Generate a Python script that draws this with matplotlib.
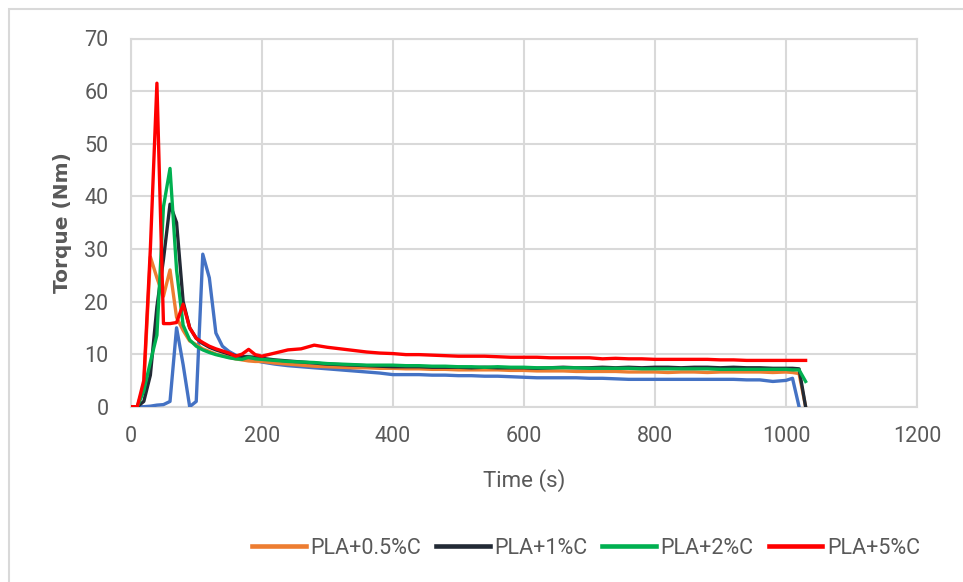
import numpy as np
import matplotlib
matplotlib.use("Agg")
import matplotlib.pyplot as plt
from matplotlib.patches import Rectangle
from matplotlib.lines import Line2D

# Sampling times (s)
time_s = list(range(0, 210, 10)) + list(range(220, 1010, 20)) + [1010, 1020, 1030]

pla = [0, 0, 0, 0.1, 0.3, 0.4, 1.0, 15.0, 8.0, 0, 1.0, 29.0, 24.5, 14.0, 11.5, 10.5, 9.8, 9.4, 9.0, 8.8, 8.5,
       8.1, 7.8, 7.6, 7.4, 7.2, 7.0, 6.8, 6.6, 6.4, 6.1, 6.1, 6.1, 6.0, 6.0, 5.9, 5.9, 5.8, 5.8, 5.7, 5.6,
       5.5, 5.5, 5.5, 5.5, 5.4, 5.4, 5.3, 5.2, 5.2, 5.2, 5.2, 5.2, 5.2, 5.2, 5.2, 5.2, 5.1, 5.1, 4.8, 5.0,
       5.4, 0, np.nan]

pla_05c = [0, 0, 4.0, 28.5, 24.5, 21.0, 26.0, 17.0, 14.5, 12.5, 11.8, 11.0, 10.5, 10.0, 9.7, 9.4, 9.1, 8.9, 8.7, 8.6, 8.6,
           8.3, 8.1, 7.9, 7.7, 7.6, 7.5, 7.4, 7.4, 7.3, 7.3, 7.2, 7.2, 7.1, 7.1, 7.0, 7.0, 7.0, 7.0, 6.9, 6.9,
           6.8, 6.8, 6.8, 6.7, 6.7, 6.7, 6.7, 6.6, 6.6, 6.6, 6.5, 6.6, 6.6, 6.5, 6.6, 6.6, 6.6, 6.6, 6.5, 6.6,
           6.5, 6.3, 0]

pla_1c = [0, 0, 1.0, 6.0, 19.0, 28.0, 38.5, 35.0, 20.0, 15.0, 13.0, 12.0, 11.3, 10.8, 10.4, 10.0, 9.7, 9.5, 9.5, 9.4, 9.2,
          8.9, 8.7, 8.5, 8.3, 8.1, 8.0, 7.9, 7.8, 7.7, 7.6, 7.6, 7.6, 7.5, 7.5, 7.5, 7.4, 7.5, 7.4, 7.4, 7.4,
          7.3, 7.4, 7.5, 7.4, 7.4, 7.5, 7.4, 7.5, 7.4, 7.5, 7.5, 7.4, 7.5, 7.5, 7.4, 7.5, 7.4, 7.4, 7.3, 7.3,
          7.3, 7.2, 0]

pla_2c = [0, 0, 3.0, 8.5, 13.6, 38.0, 45.3, 26.0, 15.5, 12.7, 11.5, 10.8, 10.3, 9.9, 9.6, 9.3, 9.1, 9.0, 9.4, 9.1, 9.0,
          8.8, 8.6, 8.5, 8.4, 8.2, 8.1, 8.0, 7.9, 7.9, 7.9, 7.8, 7.8, 7.7, 7.7, 7.6, 7.6, 7.5, 7.6, 7.5, 7.5,
          7.4, 7.4, 7.4, 7.4, 7.3, 7.3, 7.3, 7.3, 7.2, 7.2, 7.2, 7.2, 7.2, 7.2, 7.1, 7.1, 7.1, 7.1, 7.1, 7.1,
          7.0, 7.0, 4.8]

pla_5c = [0, 0, 5.0, 30.0, 61.5, 15.8, 15.8, 16.0, 19.5, 15.0, 13.0, 12.2, 11.5, 11.0, 10.6, 10.2, 9.6, 10.0, 10.9, 9.9, 9.6,
          10.2, 10.8, 11.0, 11.7, 11.3, 11.0, 10.7, 10.4, 10.2, 10.1, 9.9, 9.9, 9.8, 9.7, 9.6, 9.6, 9.6, 9.5, 9.4, 9.4,
          9.4, 9.3, 9.3, 9.3, 9.3, 9.1, 9.2, 9.1, 9.1, 9.0, 9.0, 9.0, 9.0, 9.0, 8.9, 8.9, 8.8, 8.8, 8.8, 8.8,
          8.8, 8.8, 8.8]

series = [
    (pla, "#4472C4", None),
    (pla_05c, "#ED7D31", "PLA+0.5%C"),
    (pla_1c, "#222A35", "PLA+1%C"),
    (pla_2c, "#00B050", "PLA+2%C"),
    (pla_5c, "#FF0000", "PLA+5%C"),
]

x_ticks = [0, 200, 400, 600, 800, 1000, 1200]
y_ticks = [0, 10, 20, 30, 40, 50, 60, 70]

grid_c = "#d9d9d9"
text_c = "#595959"
font = ["Roboto", "DejaVu Sans"]

fig = plt.figure(figsize=(9.63, 5.82), dpi=100)
fig.patch.set_facecolor("white")

# Chart-area border
fig.add_artist(Rectangle((9 / 963, -0.5), 2.0, 1.5 - 9 / 582, transform=fig.transFigure,
                         fill=False, edgecolor=grid_c, linewidth=1.5))

ax = fig.add_axes([130.7 / 963, (582 - 406.7) / 582, (917 - 130.7) / 963, (406.7 - 38.5) / 582])

handles = []
for vals, col, lab in series:
    ax.plot(time_s, vals, color=col, linewidth=2.4, solid_joinstyle="round", zorder=3)
    if lab:
        handles.append(Line2D([], [], color=col, linewidth=3.3, label=lab))

ax.set_xlim(0, 1200)
ax.set_ylim(0, 70)
ax.set_xticks(x_ticks)
ax.set_yticks(y_ticks)
ax.grid(True, color=grid_c, linewidth=1.5, zorder=0)
for sp in ax.spines.values():
    sp.set_color(grid_c)
    sp.set_linewidth(1.5)
ax.tick_params(length=0, labelcolor=text_c, labelsize=15.5)
ax.tick_params(axis="y", pad=16)
ax.tick_params(axis="x", pad=14)
for lab in ax.get_xticklabels() + ax.get_yticklabels():
    lab.set_family(font)

ax.set_xlabel("Time (s)", fontsize=16, color=text_c, family=font, labelpad=16)
ax.set_ylabel("Torque (Nm)", fontsize=14.5, color=text_c, family="DejaVu Sans",
              fontweight="bold", labelpad=9)

leg = fig.legend(handles=handles, loc="center", bbox_to_anchor=(586 / 963, (582 - 548) / 582),
                 ncol=4, frameon=False, handlelength=2.5, handletextpad=0.2, columnspacing=0.7,
                 prop={"family": font, "size": 15.5})
for t in leg.get_texts():
    t.set_color(text_c)

fig.savefig("out.png", dpi=100)
